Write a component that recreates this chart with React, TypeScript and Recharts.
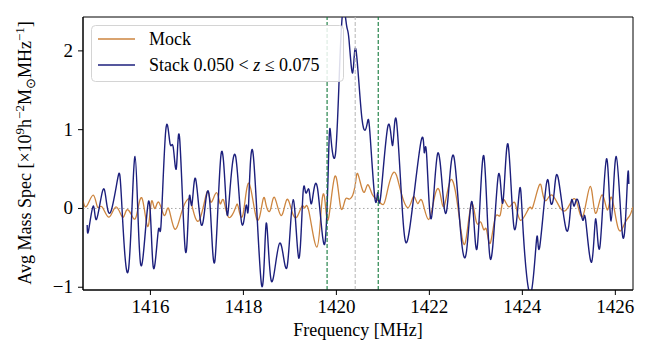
import React from "react";
import {
  LineChart,
  Line,
  XAxis,
  YAxis,
  ReferenceLine,
  ReferenceArea,
} from "recharts";

// Mock spectrum (orange)
const mockFreq = [
  1414.55, 1414.63, 1414.77, 1414.86, 1414.96, 1415.11, 1415.26, 1415.4, 1415.49, 1415.6,
  1415.7, 1415.82, 1415.94, 1416.02, 1416.09, 1416.18, 1416.3, 1416.39, 1416.52, 1416.67,
  1416.81, 1416.9, 1417.05, 1417.22, 1417.3, 1417.42, 1417.5, 1417.57, 1417.68, 1417.83,
  1417.89, 1417.99, 1418.12, 1418.29, 1418.42, 1418.49, 1418.58, 1418.67, 1418.81, 1418.93,
  1419.04, 1419.15, 1419.26, 1419.32, 1419.41, 1419.58, 1419.68, 1419.75, 1419.83, 1419.97,
  1420.09, 1420.19, 1420.29, 1420.4, 1420.46, 1420.58, 1420.67, 1420.77, 1420.88, 1421.01,
  1421.1, 1421.24, 1421.37, 1421.54, 1421.66, 1421.75, 1421.84, 1421.98, 1422.11, 1422.22,
  1422.32, 1422.47, 1422.64, 1422.77, 1422.9, 1423.01, 1423.1, 1423.17, 1423.23, 1423.31,
  1423.42, 1423.52, 1423.59, 1423.71, 1423.84, 1423.96, 1424.15, 1424.22, 1424.36, 1424.43,
  1424.51, 1424.64, 1424.82, 1424.98, 1425.15, 1425.3, 1425.46, 1425.57, 1425.71, 1425.83,
  1425.92, 1426.06, 1426.2, 1426.31, 1426.38,
];
const mockValues = [
  0.1, 0.03, 0.17, 0.02, 0.02, -0.11, 0.02, -0.11, -0.02, -0.09,
  -0.09, 0.13, -0.23, 0.08, 0.0, 0.08, -0.09, 0.0, -0.26, -0.05,
  0.12, 0.02, -0.15, 0.21, 0.08, 0.2, 0.06, 0.11, -0.11, 0.01,
  0.02, -0.08, 0.32, -0.14, 0.11, 0.04, -0.02, 0.14, -0.09, 0.11,
  -0.03, -0.11, 0.03, 0.01, -0.04, -0.49, 0.03, 0.12, -0.13, 0.41,
  0.02, 0.11, 0.12, 0.28, 0.44, 0.21, 0.3, 0.18, 0.11, 0.05,
  0.23, 0.46, 0.25, 0.01, 0.15, 0.06, 0.1, -0.14, 0.14, 0.22,
  0.03, 0.37, -0.1, -0.44, 0.05, -0.17, -0.17, -0.27, -0.27, -0.44,
  -0.11, -0.09, 0.11, 0.02, 0.07, -0.15, 0.01, 0.01, 0.29, 0.21,
  0.1, 0.17, 0.0, 0.01, 0.11, -0.1, 0.28, -0.06, 0.17, -0.02,
  0.14, -0.25, -0.19, -0.09, 0.02,
];

// Stacked spectrum (navy)
const stackFreq = [
  1414.64, 1414.67, 1414.77, 1414.84, 1414.97, 1415.05, 1415.15, 1415.3, 1415.38, 1415.53,
  1415.67, 1415.79, 1415.96, 1416.06, 1416.17, 1416.23, 1416.33, 1416.42, 1416.49, 1416.56,
  1416.63, 1416.75, 1416.83, 1416.89, 1416.97, 1417.09, 1417.2, 1417.29, 1417.39, 1417.52,
  1417.63, 1417.7, 1417.83, 1417.96, 1418.06, 1418.11, 1418.21, 1418.39, 1418.49, 1418.6,
  1418.78, 1418.94, 1419.07, 1419.19, 1419.28, 1419.34, 1419.41, 1419.47, 1419.59, 1419.75,
  1419.84, 1419.89, 1419.98, 1420.06, 1420.14, 1420.22, 1420.27, 1420.35, 1420.42, 1420.55,
  1420.66, 1420.72, 1420.83, 1420.89, 1420.95, 1421.11, 1421.21, 1421.29, 1421.43, 1421.58,
  1421.82, 1421.89, 1421.94, 1422.04, 1422.18, 1422.32, 1422.42, 1422.53, 1422.67, 1422.8,
  1422.92, 1423.03, 1423.17, 1423.31, 1423.48, 1423.58, 1423.69, 1423.82, 1423.94, 1424.02,
  1424.18, 1424.31, 1424.37, 1424.52, 1424.6, 1424.68, 1424.77, 1424.95, 1425.05, 1425.11,
  1425.19, 1425.3, 1425.36, 1425.49, 1425.58, 1425.67, 1425.81, 1425.91, 1426.02, 1426.16,
  1426.26, 1426.29,
];
const stackValues = [
  -0.21, -0.28, 0.03, -0.14, 0.22, 0.1, -0.04, 0.39, 0.1, -0.77,
  0.66, -0.71, 0.09, -0.74, -0.28, -0.19, 0.99, 0.83, 0.78, 0.52,
  0.88, -0.53, 0.11, 0.04, 0.38, -0.2, 0.14, -0.02, -0.65, 0.69,
  0.05, 0.15, 0.67, -0.18, 0.04, 0.03, 0.69, -0.97, -0.19, -0.92,
  -0.44, -0.74, 0.11, -0.63, 0.17, 0.2, 0.24, 0.07, 0.27, -0.45,
  0.81, 0.85, 0.69, 1.65, 2.51, 2.32, 2.15, 1.72, 2.02, 1.14,
  1.07, 0.97, 0.12, 0.2, 0.14, 1.05, 0.8, 1.12, -0.12, -0.24,
  0.85, 0.71, 0.69, -0.13, 0.7, 0.01, 0.26, 0.65, -0.28, -0.54,
  0.08, -0.49, 0.67, -0.64, 0.41, 0.07, 0.82, -0.24, 0.24, -0.31,
  -1.08, -0.37, -0.5, 0.32, 0.11, 0.18, 0.39, -0.28, 0.08, 0.03,
  0.11, -0.15, -0.14, -0.68, -0.13, -0.48, 0.63, -0.16, 0.66, -0.36,
  0.35, 0.31,
];

const xTicks = [1416, 1418, 1420, 1422, 1424, 1426];
const yTicks = [-1, 0, 1, 2];
const xDomain = [1414.55, 1426.38];
const yDomain = [-1.035, 2.43];
const windowEdges = [1419.8, 1420.9];
const restFreq = 1420.405;

const FONT = '"Liberation Serif", "Times New Roman", serif';
const MOCK_COLOR = "#cd853f";
const STACK_COLOR = "#1c1f7c";

const mockData = mockFreq.map((f, i) => ({ freq: f, value: mockValues[i] }));
const stackData = stackFreq.map((f, i) => ({ freq: f, value: stackValues[i] }));

const fmtY = (v: number) => (v < 0 ? `\u2212${Math.abs(v)}` : `${v}`);

function XTick(props: any) {
  const { x, y, payload } = props;
  return (
    <text x={x} y={y + 14} textAnchor="middle" fontFamily={FONT} fontSize={19} fill="#000">
      {payload.value}
    </text>
  );
}

function YTick(props: any) {
  const { x, y, payload } = props;
  return (
    <text x={x} y={y + 6} textAnchor="end" fontFamily={FONT} fontSize={19} fill="#000">
      {fmtY(payload.value)}
    </text>
  );
}

function YTitle() {
  const cx = 31;
  const cy = 153;
  return (
    <text
      x={cx}
      y={cy}
      transform={`rotate(-90, ${cx}, ${cy})`}
      textAnchor="middle"
      fontFamily={FONT}
      fontSize={18}
      fill="#000"
    >
      <tspan>Avg Mass Spec [×10</tspan>
      <tspan dy={-7} fontSize={13}>9</tspan>
      <tspan dy={7}>h</tspan>
      <tspan dy={-7} fontSize={13}>−2</tspan>
      <tspan dy={7}>M</tspan>
      <tspan dy={4} fontSize={13}>⊙</tspan>
      <tspan dy={-4}>MHz</tspan>
      <tspan dy={-7} fontSize={13}>−1</tspan>
      <tspan dy={7}>]</tspan>
    </text>
  );
}

function LegendBox() {
  return (
    <svg
      width={260}
      height={64}
      style={{ position: "absolute", left: 88, top: 22, pointerEvents: "none" }}
    >
      <rect x={3.5} y={3.5} width={252} height={56} rx={4} fill="rgba(255,255,255,0.85)" stroke="#d4d4d4" />
      <line x1={10} x2={47} y1={17} y2={17} stroke={MOCK_COLOR} strokeWidth={1.3} />
      <text x={61} y={23} fontFamily={FONT} fontSize={18} fill="#000">Mock</text>
      <line x1={10} x2={47} y1={43} y2={43} stroke={STACK_COLOR} strokeWidth={1.4} />
      <text x={61} y={49} fontFamily={FONT} fontSize={18} fill="#000">
        Stack 0.050 &lt; <tspan fontStyle="italic">z</tspan> ≤ 0.075
      </text>
    </svg>
  );
}

export default function App() {
  return (
    <div style={{ position: "absolute", left: 0, top: 0, width: 647, height: 347, background: "#fff" }}>
      <LineChart width={647} height={347} margin={{ top: 17, right: 14, bottom: 0, left: 0 }}>
        <XAxis
          dataKey="freq"
          type="number"
          domain={xDomain}
          ticks={xTicks}
          allowDataOverflow
          height={57}
          tickSize={5}
          tickMargin={4}
          axisLine={{ stroke: "#000" }}
          tickLine={{ stroke: "#000" }}
          tick={<XTick />}
          label={{
            content: () => (
              <text x={358} y={336} textAnchor="middle" fontFamily={FONT} fontSize={18} fill="#000">
                Frequency [MHz]
              </text>
            ),
          }}
        />
        <YAxis
          type="number"
          domain={yDomain}
          ticks={yTicks}
          allowDataOverflow
          width={83}
          tickSize={5}
          tickMargin={5}
          axisLine={{ stroke: "#000" }}
          tickLine={{ stroke: "#000" }}
          tick={<YTick />}
          label={{ content: () => <YTitle /> }}
        />
        <ReferenceLine y={0} stroke="#a8a8a8" strokeDasharray="1.5 2.5" strokeWidth={1} />
        <Line
          data={mockData}
          dataKey="value"
          type="natural"
          stroke={MOCK_COLOR}
          strokeWidth={1.3}
          dot={false}
          isAnimationActive={false}
        />
        <Line
          data={stackData}
          dataKey="value"
          type="natural"
          stroke={STACK_COLOR}
          strokeWidth={1.4}
          dot={false}
          isAnimationActive={false}
        />
        {windowEdges.map((f) => (
          <ReferenceLine key={f} x={f} stroke="#147a3c" strokeDasharray="4 2" strokeWidth={1.1} />
        ))}
        <ReferenceLine x={restFreq} stroke="#bdbdbd" strokeDasharray="4 2" strokeWidth={1.1} />
        <ReferenceArea
          x1={xDomain[0]}
          x2={xDomain[1]}
          y1={yDomain[0]}
          y2={yDomain[1]}
          fill="none"
          stroke="#000"
          strokeWidth={1}
        />
      </LineChart>
      <LegendBox />
    </div>
  );
}
